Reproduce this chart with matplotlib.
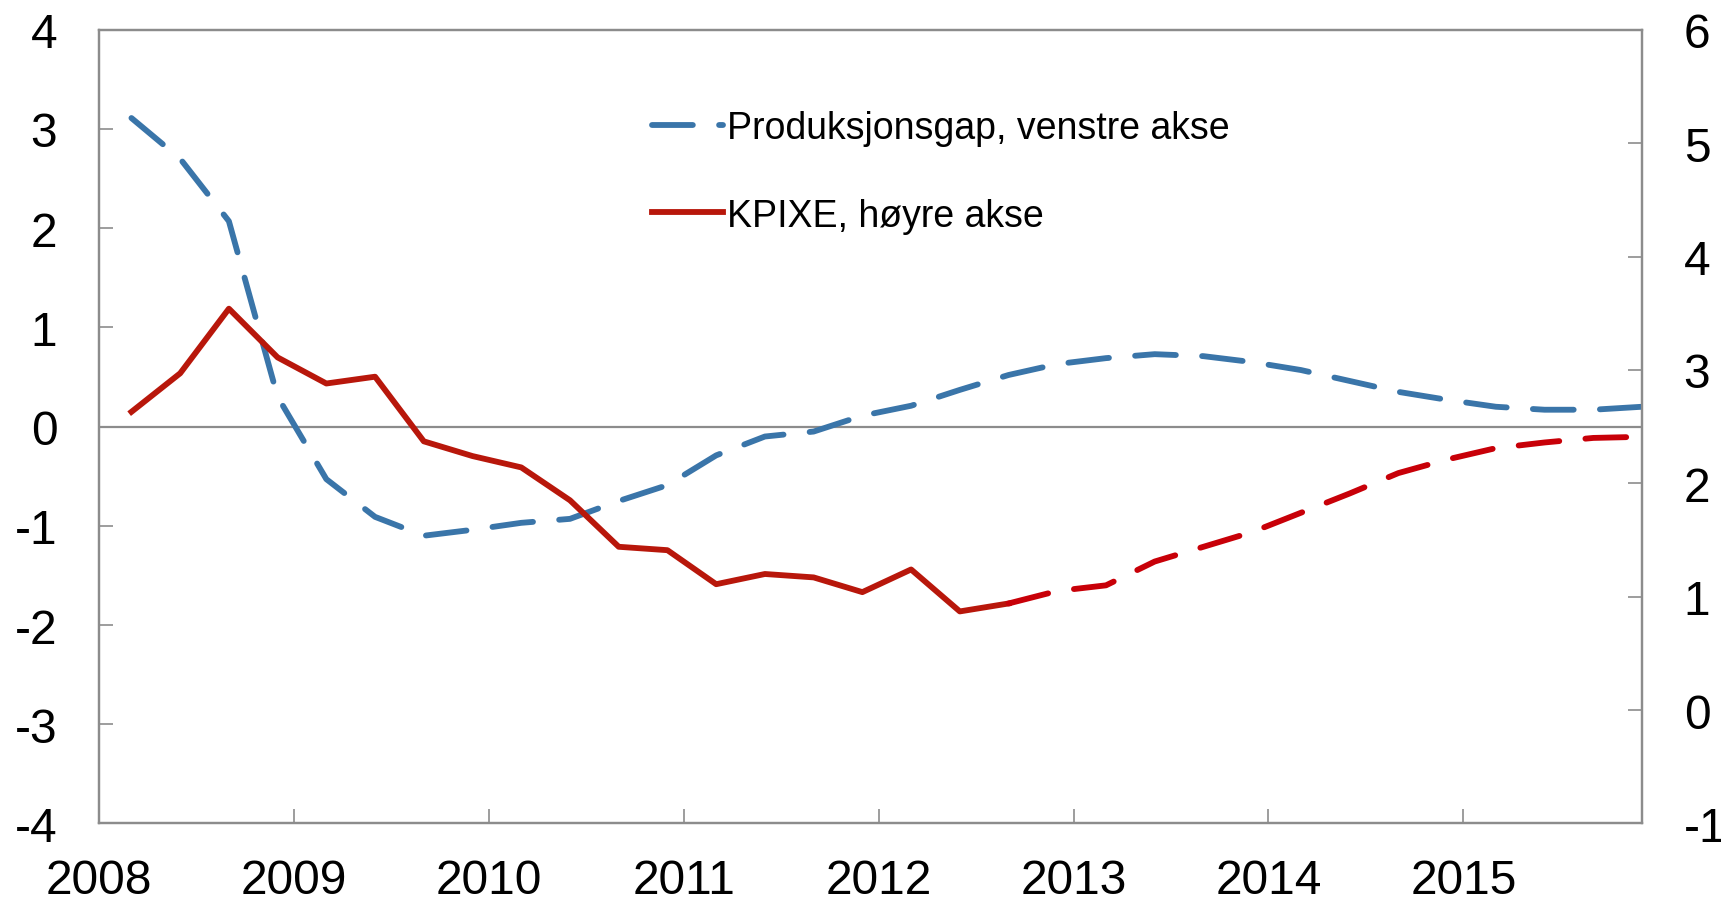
import matplotlib
matplotlib.use("Agg")
import matplotlib.pyplot as plt
import numpy as np

plt.rcParams['font.family'] = ['Liberation Sans', 'DejaVu Sans']
plt.rcParams['axes.unicode_minus'] = False

# quarterly observations 2008Q1 - 2015Q4, plotted at the last month of each quarter
years = np.repeat(np.arange(2008, 2016), 4)
months = np.tile([3, 6, 9, 12], 8)
x = years + (months - 1) / 12

# output gap, left axis
gap = [3.11, 2.70, 2.07, 0.30,
       -0.53, -0.91, -1.10, -1.04,
       -0.97, -0.93, -0.75, -0.59,
       -0.29, -0.10, -0.05, 0.11,
       0.21, 0.37, 0.52, 0.63,
       0.69, 0.73, 0.71, 0.65,
       0.57, 0.46, 0.35, 0.27,
       0.20, 0.17, 0.17, 0.20]

# KPIXE, right axis (solid = history, dashed = projection)
kpixe = [2.63, 2.97, 3.54, 3.11,
         2.88, 2.94, 2.37, 2.24,
         2.14, 1.85, 1.44, 1.41,
         1.11, 1.20, 1.17, 1.04,
         1.24, 0.87, 0.94, 1.05,
         1.10, 1.31, 1.44, 1.57,
         1.74, 1.91, 2.09, 2.21,
         2.31, 2.36, 2.40, 2.41]
n_hist = 19  # last observed point: 2012Q3

BLUE = '#3A75A9'
RED = '#B8170B'
RED_PROJ = '#C80008'
GREY = '#8C8C8C'
FS = 34.5
LW = 4.2

fig = plt.figure(figsize=(17.21, 9.04), dpi=100)
ax = fig.add_axes([0.0575, 0.088, 0.8966, 0.878])
ax2 = ax.twinx()

ax.axhline(0, color=GREY, lw=1.6, zorder=1)

line_gap, = ax.plot(x, gap, color=BLUE, lw=LW, dashes=(7, 4.5),
                    dash_capstyle='round', zorder=3,
                    label='Produksjonsgap, venstre akse')
line_cpi, = ax2.plot(x[:n_hist], kpixe[:n_hist], color=RED, lw=LW,
                     label='KPIXE, høyre akse')
ax2.plot(x[n_hist - 1:], kpixe[n_hist - 1:], color=RED_PROJ, lw=LW,
         dashes=(7, 4.5), dash_capstyle='round')

ax.set_xlim(2008, 2015 + 11 / 12)
ax.set_ylim(-4, 4)
ax2.set_ylim(-1, 6)

ax.set_xticks(np.arange(2008, 2016))
ax.set_xticklabels([str(y) for y in range(2008, 2016)])
ax.set_yticks(np.arange(-4, 5))
ax2.set_yticks(np.arange(-1, 7))

for a in (ax, ax2):
    for s in a.spines.values():
        s.set_color(GREY)
        s.set_linewidth(1.6)
    a.tick_params(axis='both', direction='in', length=10, width=1.2,
                  color=GREY, labelsize=FS)
ax.tick_params(axis='y', pad=30)
ax.tick_params(axis='x', pad=25)
ax2.tick_params(axis='y', pad=30)

ax.legend(handles=[line_gap, line_cpi], loc='upper left',
          bbox_to_anchor=(0.349, 0.918), frameon=False, fontsize=27,
          handlelength=1.88, handletextpad=0.1, labelspacing=1.38,
          borderaxespad=0)

fig.savefig('out.png', dpi=100)
